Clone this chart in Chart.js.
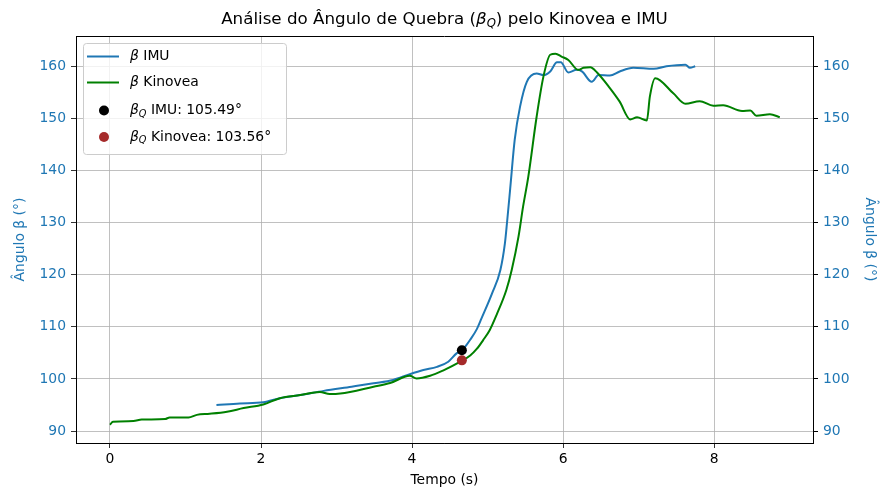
<!DOCTYPE html>
<html>
<head>
<meta charset="utf-8">
<script src="https://cdn.jsdelivr.net/npm/chart.js@4.4.1/dist/chart.umd.min.js"></script>
<style>
    body { margin: 0; background: #fff; }
</style>
</head>
<body>
<canvas id="grafik" width="880" height="490"></canvas>
<script>
// VERİLER
const imuT = [1.41, 1.72, 2.03, 2.25, 2.52, 2.83, 3.2, 3.49, 3.75, 3.97, 4.15, 4.33, 4.48, 4.59, 4.66, 4.72,
    4.77, 4.86, 4.92, 5.06, 5.17, 5.23, 5.26, 5.30, 5.36, 5.43, 5.52, 5.65, 5.74, 5.83, 5.92, 5.97,
    6.07, 6.18, 6.25, 6.38, 6.47, 6.62, 6.75, 6.93, 7.20, 7.37, 7.62, 7.68, 7.75];
const imuV = [95.0, 95.3, 95.5, 96.3, 96.9, 97.7, 98.5, 99.15, 99.8, 100.9, 101.7, 102.3, 103.3, 104.9, 105.49, 106.5,
    107.5, 109.6, 111.6, 116.4, 120.9, 126.0, 130.3, 136.5, 145.9, 152.2, 157.0, 158.6, 158.3, 159.0, 160.75, 160.75,
    158.8, 159.3, 159.0, 157.0, 158.3, 158.2, 159.0, 159.7, 159.5, 160.0, 160.3, 159.7, 160.0];

const kinT = [0.0, 0.04, 0.31, 0.42, 0.73, 0.79, 1.04, 1.15, 1.32, 1.55, 1.77, 2.03, 2.25, 2.52, 2.78, 2.91,
    3.05, 3.49, 3.71, 3.97, 4.06, 4.24, 4.41, 4.64, 4.77, 4.86, 4.94, 5.03, 5.12, 5.25, 5.32, 5.41,
    5.47, 5.54, 5.65, 5.74, 5.83, 5.90, 5.98, 6.07, 6.20, 6.27, 6.36, 6.45, 6.62, 6.75, 6.89, 6.98,
    7.11, 7.15, 7.22, 7.46, 7.62, 7.81, 7.99, 8.12, 8.37, 8.48, 8.56, 8.74, 8.87];
const kinV = [91.2, 91.8, 91.9, 92.2, 92.3, 92.6, 92.6, 93.1, 93.3, 93.7, 94.4, 95.1, 96.3, 96.9, 97.5, 97.1,
    97.2, 98.5, 99.2, 100.6, 100.1, 100.6, 101.6, 103.3, 104.5, 105.8, 107.4, 109.4, 112.3, 117.1, 120.9, 127.3,
    133.0, 138.8, 150.3, 158.0, 162.2, 162.4, 161.85, 161.2, 159.3, 159.7, 159.8, 158.8, 155.8, 153.2, 149.8, 150.2,
    149.6, 154.2, 157.7, 154.8, 152.8, 153.3, 152.4, 152.5, 151.4, 151.5, 150.5, 150.8, 150.2];

// kırılma noktaları: [IMU, Kinovea]
const quebraT = [4.66, 4.66];
const quebraV = [105.49, 103.56];

const xTicks = [0, 2, 4, 6, 8];
const yTicks = [90, 100, 110, 120, 130, 140, 150, 160];

const MAVI = "#1f77b4";
const YESIL = "#008000";
const FONT = "DejaVu Sans";

function noktalar(xs, ys) {
    return xs.map((x, i) => ({ x: x, y: ys[i] }));
}

// alt indisli yazı
function zenginYaz(ctx, parcalar, x, y, boyut) {
    for (const p of parcalar) {
        const s = p.alt ? boyut * 0.7 : boyut;
        ctx.font = (p.it ? "italic " : "") + s + "px '" + FONT + "'";
        ctx.fillText(p.t, x, y + (p.alt ? boyut * 0.25 : 0));
        x += ctx.measureText(p.t).width;
    }
    return x;
}
function zenginGenislik(ctx, parcalar, boyut) {
    let w = 0;
    for (const p of parcalar) {
        const s = p.alt ? boyut * 0.7 : boyut;
        ctx.font = (p.it ? "italic " : "") + s + "px '" + FONT + "'";
        w += ctx.measureText(p.t).width;
    }
    return w;
}

const suslemeler = {
    id: "suslemeler",
    afterDraw(chart) {
        const ctx = chart.ctx;
        const a = chart.chartArea;
        ctx.save();

        // üst çerçeve
        ctx.strokeStyle = "#000";
        ctx.lineWidth = 1;
        ctx.beginPath();
        ctx.moveTo(a.left, Math.round(a.top) + 0.5);
        ctx.lineTo(a.right, Math.round(a.top) + 0.5);
        ctx.stroke();

        // başlık
        const baslik = [
            { t: "Análise do Ângulo de Quebra (" },
            { t: "β", it: true },
            { t: "Q", it: true, alt: true },
            { t: ") pelo Kinovea e IMU" }
        ];
        ctx.fillStyle = "#000";
        ctx.textBaseline = "middle";
        const bw = zenginGenislik(ctx, baslik, 16.7);
        zenginYaz(ctx, baslik, (a.left + a.right) / 2 - bw / 2, 20, 16.7);

        // lejant
        ctx.fillStyle = "rgba(255,255,255,0.8)";
        ctx.strokeStyle = "#cccccc";
        ctx.beginPath();
        ctx.roundRect(83.5, 43.5, 203, 111, 3);
        ctx.fill();
        ctx.stroke();

        const satirlar = [
            { y: 56.5, tip: "cizgi", renk: MAVI, yazi: [{ t: "β", it: true }, { t: " IMU" }] },
            { y: 82.5, tip: "cizgi", renk: YESIL, yazi: [{ t: "β", it: true }, { t: " Kinovea" }] },
            { y: 110.5, tip: "nokta", renk: "#000",
              yazi: [{ t: "β", it: true }, { t: "Q", it: true, alt: true }, { t: " IMU: " + quebraV[0].toFixed(2) + "°" }] },
            { y: 137, tip: "nokta", renk: "#a52a2a",
              yazi: [{ t: "β", it: true }, { t: "Q", it: true, alt: true }, { t: " Kinovea: " + quebraV[1].toFixed(2) + "°" }] }
        ];
        for (const s of satirlar) {
            if (s.tip === "cizgi") {
                ctx.strokeStyle = s.renk;
                ctx.lineWidth = 2;
                ctx.beginPath();
                ctx.moveTo(87, s.y);
                ctx.lineTo(119, s.y);
                ctx.stroke();
            } else {
                ctx.fillStyle = s.renk;
                ctx.beginPath();
                ctx.arc(104, s.y, 5, 0, Math.PI * 2);
                ctx.fill();
            }
            ctx.fillStyle = "#000";
            zenginYaz(ctx, s.yazi, 130, s.y, 13.9);
        }
        ctx.restore();
    }
};

const eksenFont = { family: FONT, size: 13.9 };

new Chart(document.getElementById("grafik"), {
    type: "line",
    data: {
        datasets: [{
            label: "βQ IMU",
            type: "scatter",
            data: [{ x: quebraT[0], y: quebraV[0] }],
            backgroundColor: "#000",
            borderWidth: 0,
            pointRadius: 5,
            order: 0
        }, {
            label: "βQ Kinovea",
            type: "scatter",
            data: [{ x: quebraT[1], y: quebraV[1] }],
            backgroundColor: "#a52a2a",
            borderWidth: 0,
            pointRadius: 5,
            order: 1
        }, {
            label: "β Kinovea",
            data: noktalar(kinT, kinV),
            borderColor: YESIL,
            borderWidth: 2,
            pointRadius: 0,
            cubicInterpolationMode: "monotone",
            yAxisID: "y2",
            order: 2
        }, {
            label: "β IMU",
            data: noktalar(imuT, imuV),
            borderColor: MAVI,
            borderWidth: 2,
            pointRadius: 0,
            cubicInterpolationMode: "monotone",
            order: 3
        }]
    },
    options: {
        responsive: false,
        animation: false,
        layout: { padding: { top: 36 } },
        plugins: {
            legend: { display: false },
            title: { display: false },
            tooltip: { enabled: false }
        },
        scales: {
            x: {
                type: "linear",
                min: -0.45,
                max: 9.31,
                afterBuildTicks: s => { s.ticks = xTicks.map(v => ({ value: v })); },
                afterFit: s => { s.height = 47; },
                grid: { color: "#b0b0b0", lineWidth: 0.8, tickColor: "#000", tickLength: 5 },
                border: { color: "#000", width: 1 },
                ticks: { color: "#000", font: eksenFont, padding: 3, maxRotation: 0 },
                title: { display: true, text: "Tempo (s)", color: "#000", font: eksenFont, padding: { top: 0, bottom: 1 } }
            },
            y: {
                position: "left",
                min: 87.7,
                max: 165.8,
                afterBuildTicks: s => { s.ticks = yTicks.map(v => ({ value: v })); },
                afterFit: s => { s.width = 76; },
                grid: { color: "#b0b0b0", lineWidth: 0.8, tickColor: "#000", tickLength: 5 },
                border: { color: "#000", width: 1 },
                ticks: { color: MAVI, font: eksenFont, padding: 5 },
                title: { display: true, text: "Ângulo β (°)", color: MAVI, font: eksenFont, padding: { top: 12, bottom: 0 } }
            },
            y2: {
                position: "right",
                min: 87.7,
                max: 165.8,
                afterBuildTicks: s => { s.ticks = yTicks.map(v => ({ value: v })); },
                afterFit: s => { s.width = 67; },
                grid: { drawOnChartArea: false, tickColor: "#000", tickLength: 5 },
                border: { color: "#000", width: 1 },
                ticks: { color: MAVI, font: eksenFont, padding: 5 },
                title: { display: true, text: "Ângulo β (°)", color: MAVI, font: eksenFont, padding: { top: 2, bottom: 0 } }
            }
        }
    },
    plugins: [suslemeler]
});
</script>
</body>
</html>
